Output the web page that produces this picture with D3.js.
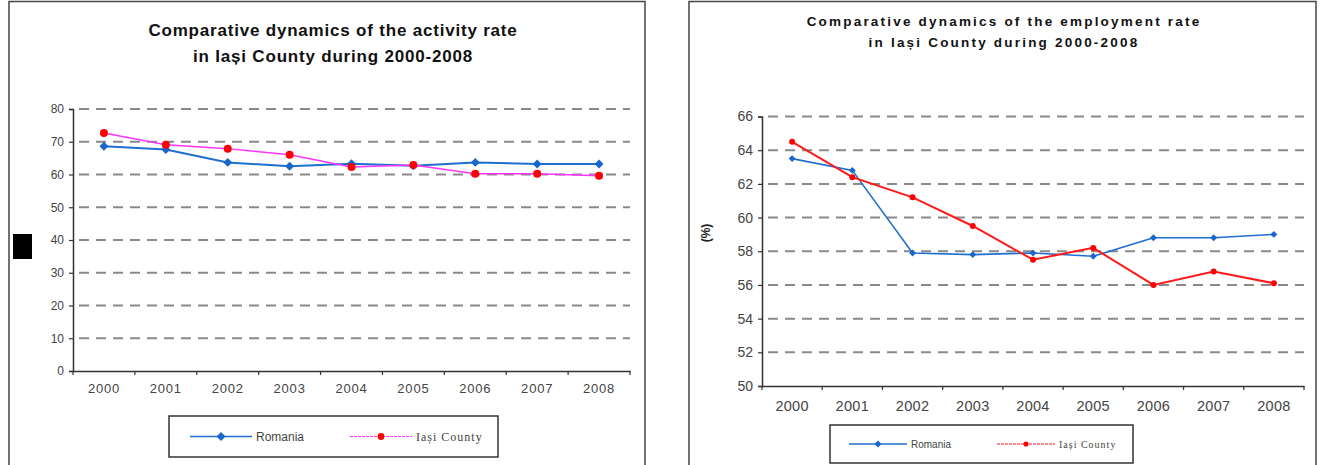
<!DOCTYPE html>
<html>
<head>
<meta charset="utf-8">
<script src="https://cdn.jsdelivr.net/npm/d3@7"></script>
<style>
  body { margin: 0; background: #fff; }
  svg { display: block; font-family: "Liberation Sans", Arial, sans-serif; }
</style>
</head>
<body>
<svg id="graph"></svg>
<script>
// data
var years = ["2000","2001","2002","2003","2004","2005","2006","2007","2008"];

var activityRomania = [68.6, 67.6, 63.7, 62.5, 63.3, 62.7, 63.7, 63.2, 63.2];
var activityIasi    = [72.7, 69.1, 67.9, 66.0, 62.3, 62.9, 60.2, 60.2, 59.6];
var activityTicks   = [0, 10, 20, 30, 40, 50, 60, 70, 80];

var employmentRomania = [63.5, 62.8, 57.9, 57.8, 57.9, 57.7, 58.8, 58.8, 59.0];
var employmentIasi    = [64.5, 62.4, 61.2, 59.5, 57.5, 58.2, 56.0, 56.8, 56.1];
var employmentTicks   = [50, 52, 54, 56, 58, 60, 62, 64, 66];

var seriesNames = ["Romania", "Iași County"];

var svg = d3.select("#graph").attr("width", 1332).attr("height", 465);

function drawChart(c){
    var g = svg.append("g");

    // frame
    g.append("rect")
        .attr("x", c.frame[0]).attr("y", 1.5)
        .attr("width", c.frame[1] - c.frame[0]).attr("height", 480)
        .attr("fill", "none").attr("stroke", "#444").attr("stroke-width", 1.5);

    // title
    c.title.forEach(function(t, i){
        g.append("text")
            .attr("x", c.titleX).attr("y", c.titleY[i])
            .attr("text-anchor", "middle")
            .attr("font-size", c.titleSize).attr("font-weight", "bold")
            .attr("letter-spacing", c.titleSpacing)
            .attr("fill", "#111")
            .text(t);
    });

    var x = d3.scaleBand().domain(years).range([c.left, c.right]);
    var y = d3.scaleLinear().domain(d3.extent(c.ticks)).range([c.bottom, c.top]);

    // dashed grid
    g.selectAll(".grid").data(c.ticks.slice(1)).enter()
        .append("line")
        .attr("x1", c.left + 6).attr("x2", c.right)
        .attr("y1", function(d){ return y(d); }).attr("y2", function(d){ return y(d); })
        .attr("stroke", "#8a8a8a").attr("stroke-width", 2)
        .attr("stroke-dasharray", "10,7");

    // axes
    var axY = g.append("g").attr("transform", "translate(" + c.left + ",0)")
        .call(d3.axisLeft(y).tickValues(c.ticks).tickSize(4).tickPadding(5));
    axY.select(".domain").attr("stroke", "#333").attr("stroke-width", 1.5);
    axY.selectAll(".tick line").attr("stroke", "#333").attr("stroke-width", 1.2);
    axY.selectAll("text").attr("font-size", c.yFont).attr("fill", "#444")
        .attr("font-family", "Liberation Sans, Arial, sans-serif");

    var axX = g.append("g").attr("transform", "translate(0," + c.bottom + ")")
        .call(d3.axisBottom(x).tickSize(0).tickPadding(c.xPad));
    axX.select(".domain").attr("stroke", "#333").attr("stroke-width", 1.5);
    axX.selectAll("text").attr("font-size", c.xFont).attr("fill", "#444")
        .attr("letter-spacing", c.xSpacing)
        .attr("font-family", "Liberation Sans, Arial, sans-serif");
    // ticks at category edges
    g.selectAll(".xt").data(years.concat(["end"])).enter()
        .append("line")
        .attr("x1", function(d, i){ return c.left + i * x.step(); })
        .attr("x2", function(d, i){ return c.left + i * x.step(); })
        .attr("y1", c.bottom).attr("y2", c.bottom + 4)
        .attr("stroke", "#333").attr("stroke-width", 1.2);

    var cx = function(d, i){ return x(years[i]) + x.bandwidth() / 2; };
    var line = d3.line().x(cx).y(function(d){ return y(d); });
    var diamond = d3.symbol(d3.symbolSquare, c.roMarker);

    // Romania
    g.append("path").datum(c.romania)
        .attr("d", line).attr("fill", "none")
        .attr("stroke", "#1f6fd0").attr("stroke-width", c.roWidth);
    g.selectAll(".ro").data(c.romania).enter()
        .append("path")
        .attr("d", diamond)
        .attr("transform", function(d, i){ return "translate(" + cx(d, i) + "," + y(d) + ") rotate(45)"; })
        .attr("fill", "#1a66cc");

    // Iasi
    g.append("path").datum(c.iasi)
        .attr("d", line).attr("fill", "none")
        .attr("stroke", c.iaColor).attr("stroke-width", c.iaWidth);
    g.selectAll(".ia").data(c.iasi).enter()
        .append("circle")
        .attr("cx", cx).attr("cy", function(d){ return y(d); })
        .attr("r", c.iaR).attr("fill", "#ff0000");

    // legend
    var L = c.legend;
    g.append("rect")
        .attr("x", L.x).attr("y", L.y).attr("width", L.w).attr("height", L.h)
        .attr("fill", "#fff").attr("stroke", "#333").attr("stroke-width", 1.5);
    var ly = L.y + L.h / 2;
    g.append("line").attr("x1", L.x + L.o1).attr("x2", L.x + L.o1 + L.len)
        .attr("y1", ly).attr("y2", ly).attr("stroke", "#1f6fd0").attr("stroke-width", 1.5);
    g.append("path").attr("d", diamond)
        .attr("transform", "translate(" + (L.x + L.o1 + L.len / 2) + "," + ly + ") rotate(45)")
        .attr("fill", "#1a66cc");
    g.append("text").attr("x", L.x + L.o1 + L.len + 4).attr("y", ly + 4)
        .attr("font-size", L.font).attr("fill", "#444").text(seriesNames[0]);

    g.append("line").attr("x1", L.x + L.o2).attr("x2", L.x + L.o2 + L.len)
        .attr("y1", ly).attr("y2", ly).attr("stroke", c.iaColor).attr("stroke-width", 1.2)
        .attr("stroke-dasharray", "3,1");
    g.append("circle").attr("cx", L.x + L.o2 + L.len / 2).attr("cy", ly)
        .attr("r", c.iaR * 0.85).attr("fill", "#ff0000");
    g.append("text").attr("x", L.x + L.o2 + L.len + 4).attr("y", ly + 4)
        .attr("font-size", L.font).attr("fill", "#444")
        .attr("font-family", "Liberation Serif, Times New Roman, serif")
        .attr("letter-spacing", 1)
        .text(seriesNames[1]);

    return g;
}

var left = drawChart({
    frame: [9, 645],
    title: ["Comparative dynamics of the activity rate", "in Iași County during 2000-2008"],
    titleX: 333, titleY: [36, 62], titleSize: 17, titleSpacing: 0.8,
    left: 73, right: 630, top: 109, bottom: 371,
    ticks: activityTicks, romania: activityRomania, iasi: activityIasi,
    yFont: 12, xFont: 13, xSpacing: 0.8, xPad: 13,
    roWidth: 2, roMarker: 40, iaColor: "#ff33ff", iaWidth: 1.5, iaR: 4,
    legend: { x: 169, y: 416, w: 329, h: 41, o1: 21, o2: 181, len: 62, font: 12 }
});

// small black box on the left edge
left.append("rect").attr("x", 13).attr("y", 234).attr("width", 19).attr("height", 25).attr("fill", "#000");

var right = drawChart({
    frame: [689, 1316],
    title: ["Comparative dynamics of the employment rate", "in Iași County during 2000-2008"],
    titleX: 1004, titleY: [26, 47], titleSize: 13.5, titleSpacing: 2.2,
    left: 762, right: 1304, top: 116.5, bottom: 386,
    ticks: employmentTicks, romania: employmentRomania, iasi: employmentIasi,
    yFont: 14, xFont: 14.5, xSpacing: 0.3, xPad: 15,
    roWidth: 1.6, roMarker: 24, iaColor: "#ff1a1a", iaWidth: 2, iaR: 3,
    legend: { x: 830, y: 425, w: 303, h: 38, o1: 19, o2: 167, len: 58, font: 10 }
});

// y-axis title of the right chart
right.append("text")
    .attr("transform", "translate(710,233) rotate(-90)")
    .attr("text-anchor", "middle")
    .attr("font-size", 12).attr("font-weight", "bold").attr("fill", "#222")
    .text("(%)");
</script>
</body>
</html>
